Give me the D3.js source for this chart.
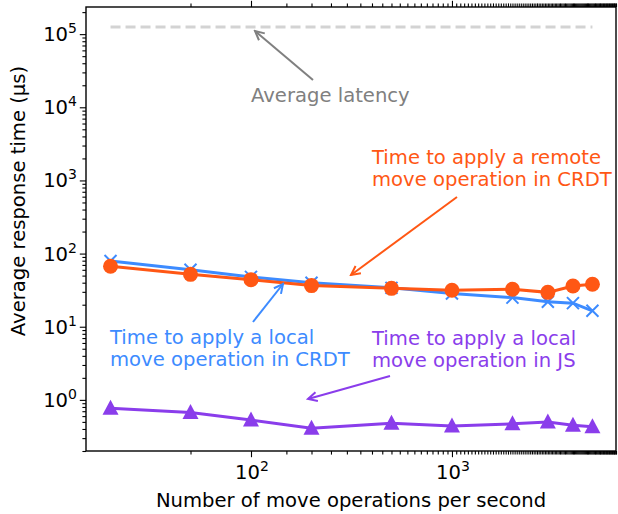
<!DOCTYPE html>
<html>
<head>
<meta charset="utf-8">
<script src="https://cdn.jsdelivr.net/npm/d3@7"></script>
<style>
  body { margin: 0; background: #fff; }
  text { font-family: "DejaVu Sans", sans-serif; }
</style>
</head>
<body>
<script>
// data
const opsPerSecond = [20, 50, 100, 200, 500, 1000, 2000, 3000, 4000, 5000];
const localCrdt = [79, 60, 48, 40, 34, 28.5, 25, 22, 21, 16.5];
const remoteCrdt = [67, 52, 44, 36.5, 33.5, 31.5, 32.5, 29.5, 36, 38];
const localJs = [0.77, 0.67, 0.53, 0.41, 0.48, 0.44, 0.47, 0.5, 0.45, 0.43];
const averageLatency = 125000;
const xMajorTicks = [100, 1000];
const yMajorTicks = [1, 10, 100, 1000, 10000, 100000];

const width = 618;
const height = 514;
const margin = { top: 7, right: 2, bottom: 63, left: 86 };
const fontSize = "19.6px";

const orange = "#ff5714";
const blue = "#3d8bff";
const purple = "#8a3deb";

const x = d3.scaleLog()
    .domain([15.1, 6550])
    .range([margin.left, width - margin.right]);

const y = d3.scaleLog()
    .domain([0.2, 2.35e5])
    .range([height - margin.bottom, margin.top]);

let svg = d3.select("body")
    .append("svg")
    .attr("width", width)
    .attr("height", height);

// arrow head like matplotlib "->"
function arrowMarker(id, color) {
    svg.append("defs").append("marker")
        .attr("id", id)
        .attr("viewBox", "-12 -6 14 12")
        .attr("refX", 0)
        .attr("refY", 0)
        .attr("markerWidth", 14)
        .attr("markerHeight", 12)
        .attr("markerUnits", "userSpaceOnUse")
        .attr("orient", "auto")
        .append("path")
        .attr("d", "M-9,-4.5L0,0L-9,4.5")
        .attr("fill", "none")
        .attr("stroke", color)
        .attr("stroke-width", 2);
}
arrowMarker("arr-gray", "#808080");
arrowMarker("arr-orange", orange);
arrowMarker("arr-blue", blue);
arrowMarker("arr-purple", purple);

// minor tick values
function minorTicks(scale) {
    return scale.ticks(100).filter(v => {
        const e = Math.log10(v);
        return Math.abs(e - Math.round(e)) > 1e-6;
    });
}
const xMinor = minorTicks(x);
const yMinor = minorTicks(y);

const xBottom = height - margin.bottom;

// bottom axis
svg.append("g")
    .attr("transform", "translate(0," + xBottom + ")")
    .call(d3.axisBottom(x).tickValues(xMinor).tickSize(3.6).tickFormat(""))
    .call(g => g.select(".domain").remove());
svg.append("g")
    .attr("transform", "translate(0," + xBottom + ")")
    .call(d3.axisBottom(x).tickValues(xMajorTicks).tickSize(6.2).tickFormat(""))
    .call(g => g.select(".domain").remove());
// top axis (mirror ticks, no labels)
svg.append("g")
    .attr("transform", "translate(0," + margin.top + ")")
    .call(d3.axisTop(x).tickValues(xMinor).tickSize(3.6).tickFormat(""))
    .call(g => g.select(".domain").remove());
svg.append("g")
    .attr("transform", "translate(0," + margin.top + ")")
    .call(d3.axisTop(x).tickValues(xMajorTicks).tickSize(6.2).tickFormat(""))
    .call(g => g.select(".domain").remove());
// left axis
svg.append("g")
    .attr("transform", "translate(" + margin.left + ",0)")
    .call(d3.axisLeft(y).tickValues(yMinor).tickSize(3.6).tickFormat(""))
    .call(g => g.select(".domain").remove());
svg.append("g")
    .attr("transform", "translate(" + margin.left + ",0)")
    .call(d3.axisLeft(y).tickValues(yMajorTicks).tickSize(6.2).tickFormat(""))
    .call(g => g.select(".domain").remove());

svg.selectAll(".tick line")
    .attr("stroke", "#000")
    .attr("stroke-width", 1.1);

// tick labels as 10^n
function powerLabel(sel, v) {
    sel.append("tspan").text("10");
    sel.append("tspan")
        .attr("dy", -8)
        .attr("font-size", "14px")
        .text(Math.round(Math.log10(v)));
}
xMajorTicks.forEach(v => {
    svg.append("text")
        .attr("x", x(v) + 1)
        .attr("y", xBottom + 28)
        .attr("text-anchor", "middle")
        .style("font-size", fontSize)
        .call(s => powerLabel(s, v));
});
yMajorTicks.forEach(v => {
    svg.append("text")
        .attr("x", margin.left - 9)
        .attr("y", y(v) + 7)
        .attr("text-anchor", "end")
        .style("font-size", fontSize)
        .call(s => powerLabel(s, v));
});

// axis labels
svg.append("text")
    .attr("x", (margin.left + width - margin.right) / 2)
    .attr("y", 507)
    .attr("text-anchor", "middle")
    .style("font-size", fontSize)
    .text("Number of move operations per second");
svg.append("text")
    .attr("transform", "translate(25,201) rotate(-90)")
    .attr("text-anchor", "middle")
    .style("font-size", fontSize)
    .text("Average response time (µs)");

// average latency dashed line
svg.append("line")
    .attr("x1", x(opsPerSecond[0]))
    .attr("x2", x(opsPerSecond[opsPerSecond.length - 1]))
    .attr("y1", y(averageLatency))
    .attr("y2", y(averageLatency))
    .attr("stroke", "#d3d3d3")
    .attr("stroke-width", 3)
    .attr("stroke-dasharray", "10,5");

const line = d3.line()
    .x((d, i) => x(opsPerSecond[i]))
    .y(d => y(d));

// local CRDT (x markers)
svg.append("path")
    .datum(localCrdt)
    .attr("d", line)
    .attr("fill", "none")
    .attr("stroke", blue)
    .attr("stroke-width", 3);
svg.selectAll(".xmark")
    .data(localCrdt)
    .enter()
    .append("path")
    .attr("class", "xmark")
    .attr("transform", (d, i) => "translate(" + x(opsPerSecond[i]) + "," + y(d) + ")")
    .attr("d", "M-6,-6L6,6M-6,6L6,-6")
    .attr("stroke", blue)
    .attr("stroke-width", 2);

// remote CRDT (circles)
svg.append("path")
    .datum(remoteCrdt)
    .attr("d", line)
    .attr("fill", "none")
    .attr("stroke", orange)
    .attr("stroke-width", 3);
svg.selectAll(".cmark")
    .data(remoteCrdt)
    .enter()
    .append("circle")
    .attr("class", "cmark")
    .attr("cx", (d, i) => x(opsPerSecond[i]))
    .attr("cy", d => y(d))
    .attr("r", 7.5)
    .attr("fill", orange);

// local JS (triangles)
svg.append("path")
    .datum(localJs)
    .attr("d", line)
    .attr("fill", "none")
    .attr("stroke", purple)
    .attr("stroke-width", 3);
svg.selectAll(".tmark")
    .data(localJs)
    .enter()
    .append("path")
    .attr("class", "tmark")
    .attr("transform", (d, i) => "translate(" + x(opsPerSecond[i]) + "," + y(d) + ")")
    .attr("d", "M0,-8.5L8,6.5L-8,6.5Z")
    .attr("fill", purple);

// frame
svg.append("rect")
    .attr("x", margin.left)
    .attr("y", margin.top)
    .attr("width", width - margin.right - margin.left)
    .attr("height", xBottom - margin.top)
    .attr("fill", "none")
    .attr("stroke", "#000")
    .attr("stroke-width", 1.4);

// annotations
function annotate(lines, tx, ty, color, from, to, markerId) {
    const t = svg.append("text")
        .attr("x", tx)
        .attr("y", ty)
        .attr("fill", color)
        .style("font-size", fontSize);
    lines.forEach((l, i) => {
        t.append("tspan")
            .attr("x", tx)
            .attr("dy", i === 0 ? 0 : 22)
            .text(l);
    });
    svg.append("line")
        .attr("x1", from[0]).attr("y1", from[1])
        .attr("x2", to[0]).attr("y2", to[1])
        .attr("stroke", color)
        .attr("stroke-width", 2)
        .attr("marker-end", "url(#" + markerId + ")");
}
annotate(["Average latency"], 251, 102, "#808080", [313, 80], [255, 31], "arr-gray");
annotate(["Time to apply a remote", "move operation in CRDT"], 372, 164, orange,
    [457, 197], [351, 275], "arr-orange");
annotate(["Time to apply a local", "move operation in CRDT"], 110, 344, blue,
    [253, 322], [283, 284], "arr-blue");
annotate(["Time to apply a local", "move operation in JS"], 372, 345, purple,
    [390, 376], [308, 399], "arr-purple");
</script>
</body>
</html>
